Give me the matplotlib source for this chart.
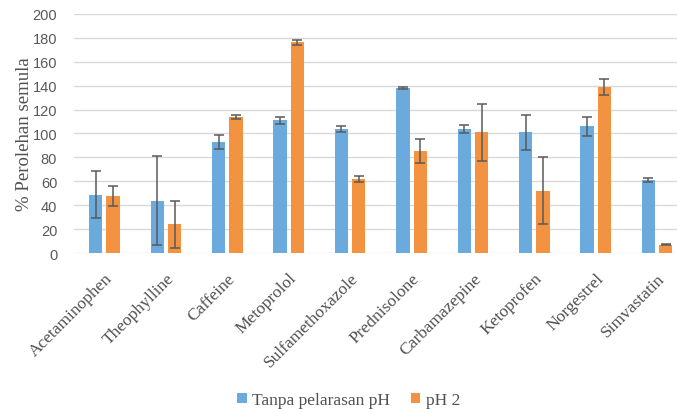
import numpy as np
import matplotlib
matplotlib.use("Agg")
import matplotlib.pyplot as plt

# Data
drugs = ["Acetaminophen", "Theophylline", "Caffeine", "Metoprolol", "Sulfamethoxazole",
         "Prednisolone", "Carbamazepine", "Ketoprofen", "Norgestrel", "Simvastatin"]
tanpa = [49, 44, 93, 111, 104, 138, 104, 101, 106, 61]
tanpa_err = [20, 37, 6, 3, 2.5, 1, 3.5, 14.5, 8, 1.5]
ph2 = [48, 24, 114, 176, 62, 85, 101, 52, 139, 7]
ph2_err = [8.5, 20, 1.5, 2, 2.5, 10, 24, 28, 6.5, 0.5]

blue = "#6AAADC"
orange = "#F39240"
err_kw = dict(ecolor="#5a5a5a", elinewidth=1.1, capsize=3.6, capthick=1.1)

fig = plt.figure(figsize=(6.77, 4.10), dpi=100)
ax = fig.add_axes([0.109, 0.380, 0.907, 0.584])

x = np.arange(len(drugs))
w = 0.217
ax.bar(x - 0.141, tanpa, w, yerr=tanpa_err, color=blue, label="Tanpa pelarasan pH",
       error_kw=err_kw, zorder=3)
ax.bar(x + 0.141, ph2, w, yerr=ph2_err, color=orange, label="pH 2",
       error_kw=err_kw, zorder=3)

ax.set_xlim(-0.5, len(drugs) - 0.5)
ax.set_ylim(0, 200)
ax.set_yticks(range(0, 201, 20))
ax.yaxis.grid(True, color="#d9d9d9", linewidth=1.0, zorder=0)
ax.set_axisbelow(True)
for s in ax.spines.values():
    s.set_visible(False)
ax.tick_params(axis="both", length=0)
ax.tick_params(axis="y", labelsize=10.5, labelcolor="#595959", pad=12)
for lab in ax.get_yticklabels():
    lab.set_family("Liberation Sans")

ax.set_xticks(x)
ax.set_xticklabels(drugs, rotation=45, ha="right", rotation_mode="anchor",
                   family="Liberation Serif", fontsize=12.5, color="#505050")
ax.tick_params(axis="x", pad=12)
ax.set_ylabel("% Perolehan semula", family="Liberation Serif", fontsize=13.5,
              color="#505050", labelpad=0)

fig.legend(loc="center", bbox_to_anchor=(0.515, 0.022), ncol=2, frameon=False,
           prop={"family": "Liberation Serif", "size": 12.5}, handlelength=0.55,
           handleheight=0.55, handletextpad=0.3, columnspacing=1.2,
           labelcolor="#505050")

fig.savefig("out.png", dpi=100)
